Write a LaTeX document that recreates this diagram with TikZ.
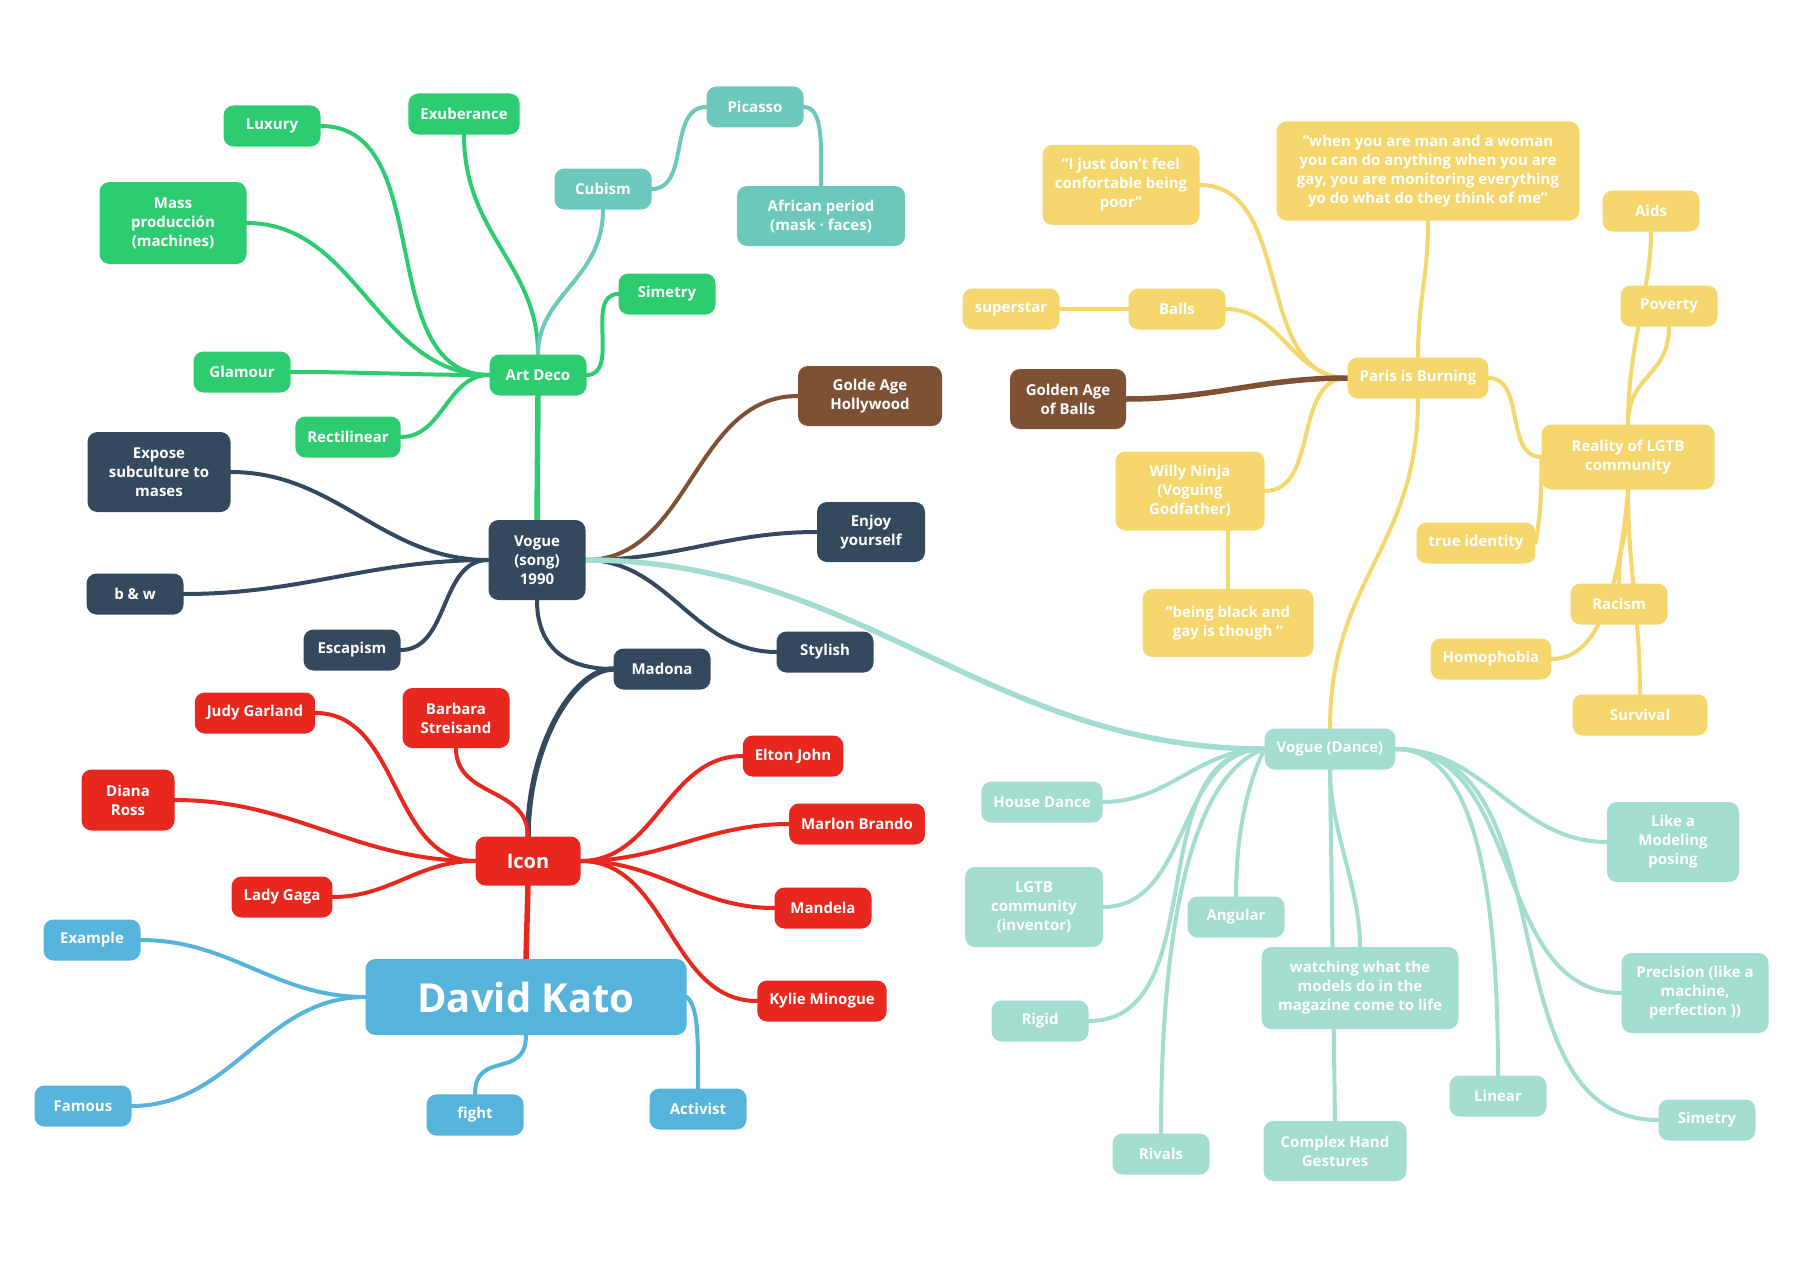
\documentclass[tikz,border=0pt]{standalone}
\usepackage{fontspec}
\setmainfont{Open Sans}
\usetikzlibrary{backgrounds}

\definecolor{decogreen}{HTML}{2ECC71}
\definecolor{cubteal}{HTML}{6DC8BC}
\definecolor{songnavy}{HTML}{34495E}
\definecolor{goldbrown}{HTML}{7E5034}
\definecolor{iconred}{HTML}{E8281E}
\definecolor{katoblue}{HTML}{56B3DC}
\definecolor{parisyellow}{HTML}{F5D76E}
\definecolor{dancemint}{HTML}{A3DDD0}

\tikzset{
  topic/.style={rounded corners=10pt, text=white, align=center,
    font=\fontsize{15}{19}\selectfont\bfseries,
    minimum height=41pt, minimum width=97pt, inner xsep=12pt, inner ysep=13pt},
  decotopic/.style={topic, fill=decogreen},
  cubtopic/.style={topic, fill=cubteal},
  songtopic/.style={topic, fill=songnavy},
  goldtopic/.style={topic, fill=goldbrown},
  icontopic/.style={topic, fill=iconred},
  katotopic/.style={topic, fill=katoblue},
  paristopic/.style={topic, fill=parisyellow},
  dancetopic/.style={topic, fill=dancemint},
  link/.style={line width=4pt, line cap=round},
  mainlink/.style={line width=5.5pt, line cap=round},
}

\begin{document}
\begin{tikzpicture}[x=1pt,y=-1pt]
        \useasboundingbox (0,0) rectangle (1819,1287);

        % Art Deco
        \node[decotopic] (artdeco) at (538,375) {Art Deco};
        \node[decotopic] (luxury) at (272,126) {Luxury};
        \node[decotopic, minimum width=109pt] (exuberance) at (464,114) {Exuberance};
        \node[decotopic, minimum width=147pt, minimum height=82pt] (mass) at (173,223) {Mass\\producción\\(machines)};
        \node[decotopic] (simetryA) at (667,294) {Simetry};
        \node[decotopic] (glamour) at (242,372) {Glamour};
        \node[decotopic] (rectilinear) at (348,437) {Rectilinear};
        \node[cubtopic] (cubism) at (603,189) {Cubism};
        \node[cubtopic] (picasso) at (755,107) {Picasso};
        \node[cubtopic, minimum width=168pt, minimum height=60pt] (african) at (821,216) {African period\\(mask · faces)};

        % Vogue (song)
        \node[songtopic, minimum height=80pt] (song) at (537,560) {Vogue\\(song)\\1990};
        \node[goldtopic, minimum width=144pt, minimum height=60pt] (hollywood) at (870,396) {Golde Age\\Hollywood};
        \node[songtopic, minimum width=143pt, minimum height=80pt] (expose) at (159,472) {Expose\\subculture to\\mases};
        \node[songtopic, minimum width=108pt, minimum height=60pt] (enjoy) at (871,532) {Enjoy\\yourself};
        \node[songtopic] (bw) at (135,594) {b \& w};
        \node[songtopic] (escapism) at (352,650) {Escapism};
        \node[songtopic] (madona) at (662,669) {Madona};
        \node[songtopic] (stylish) at (825,652) {Stylish};

        % Icon
        \node[icontopic, minimum width=105pt, minimum height=49pt] (icon) at (528,861) {\fontsize{20}{24}\selectfont Icon};
        \node[icontopic] (judy) at (255,713) {Judy Garland};
        \node[icontopic, minimum width=107pt, minimum height=60pt] (barbara) at (456,718) {Barbara\\Streisand};
        \node[icontopic, minimum width=93pt, minimum height=61pt] (diana) at (128,800) {Diana\\Ross};
        \node[icontopic] (elton) at (793,756) {Elton John};
        \node[icontopic] (marlon) at (857,824) {Marlon Brando};
        \node[icontopic] (gaga) at (282,897) {Lady Gaga};
        \node[icontopic] (mandela) at (823,908) {Mandela};
        \node[icontopic] (kylie) at (822,1001) {Kylie Minogue};

        % David Kato
        \node[katotopic, minimum width=321pt, minimum height=76pt,
          font=\fontsize{40}{44}\selectfont\bfseries] (kato) at (526,997) {David Kato};
        \node[katotopic] (example) at (92,940) {Example};
        \node[katotopic] (famous) at (83,1106) {Famous};
        \node[katotopic] (fight) at (475,1115) {fight};
        \node[katotopic] (activist) at (698,1109) {Activist};

        % Paris is Burning
        \node[paristopic] (paris) at (1418,378) {Paris is Burning};
        \node[paristopic, minimum width=157pt, minimum height=80pt] (poor) at (1121,185) {"I just don't feel\\confortable being\\poor"};
        \node[paristopic, minimum width=303pt, minimum height=99pt] (quote) at (1428,171) {"when you are man and a woman\\you can do anything when you are\\gay, you are monitoring everything\\yo do what do they think of me"};
        \node[paristopic] (aids) at (1651,211) {Aids};
        \node[paristopic] (superstar) at (1011,309) {superstar};
        \node[paristopic] (balls) at (1177,309) {Balls};
        \node[paristopic] (poverty) at (1669,306) {Poverty};
        \node[goldtopic, minimum width=116pt, minimum height=60pt] (goldenballs) at (1068,399) {Golden Age\\of Balls};
        \node[paristopic, minimum width=149pt, minimum height=79pt] (willy) at (1190,491) {Willy Ninja\\(Voguing\\Godfather)};
        \node[paristopic, minimum width=173pt, minimum height=65pt] (reality) at (1628,457) {Reality of LGTB\\community};
        \node[paristopic, minimum width=116pt] (identity) at (1476,543) {true identity};
        \node[paristopic] (racism) at (1619,604) {Racism};
        \node[paristopic, minimum width=171pt, minimum height=68pt] (black) at (1228,623) {"being black and\\gay is though "};
        \node[paristopic, minimum width=119pt] (homophobia) at (1491,659) {Homophobia};
        \node[paristopic, minimum width=135pt] (survival) at (1640,715) {Survival};

        % Vogue (Dance)
        \node[dancetopic, minimum width=129pt] (dance) at (1330,749) {Vogue (Dance)};
        \node[dancetopic, minimum width=121pt] (house) at (1042,802) {House Dance};
        \node[dancetopic, minimum width=132pt, minimum height=80pt] (modeling) at (1673,842) {Like a\\Modeling\\posing};
        \node[dancetopic, minimum width=138pt, minimum height=80pt] (lgtb) at (1034,907) {LGTB\\community\\(inventor)};
        \node[dancetopic] (angular) at (1236,917) {Angular};
        \node[dancetopic, minimum width=197pt, minimum height=82pt] (watching) at (1360,988) {watching what the\\models do in the\\magazine come to life};
        \node[dancetopic, minimum width=147pt, minimum height=80pt] (precision) at (1695,993) {Precision (like a\\machine,\\perfection ))};
        \node[dancetopic] (rigid) at (1040,1021) {Rigid};
        \node[dancetopic] (linear) at (1498,1096) {Linear};
        \node[dancetopic] (simetryB) at (1707,1120) {Simetry};
        \node[dancetopic] (rivals) at (1161,1154) {Rivals};
        \node[dancetopic, minimum width=143pt, minimum height=60pt] (hand) at (1335,1151) {Complex Hand\\Gestures};

        \begin{scope}[on background layer]
        \foreach \t in {luxury,mass,glamour,rectilinear}
            \draw[link,decogreen] (artdeco.west) to[out=180,in=0] (\t.east);
        \draw[link,decogreen] (artdeco.east) to[out=0,in=180] (simetryA.west);
        \draw[link,decogreen] (artdeco.north) .. controls +(0,-90) and +(0,100) .. (exuberance.south);
        \draw[link,cubteal] (artdeco.north) .. controls +(0,-60) and +(0,70) .. (cubism.south);
        \draw[link,cubteal] (cubism.east) to[out=0,in=180] (picasso.west);
        \draw[link,cubteal] (picasso.east) .. controls +(20,0) and +(0,-40) .. (african.north);
        \draw[mainlink,decogreen] (artdeco.south) -- (song.north);

        \foreach \t in {expose,bw,escapism}
            \draw[link,songnavy] (song.west) to[out=180,in=0] (\t.east);
        \foreach \t in {enjoy,stylish}
            \draw[link,songnavy] (song.east) to[out=0,in=180] (\t.west);
        \draw[link,songnavy] (song.south) .. controls +(0,45) and +(-50,0) .. (madona.west);
        \draw[link,goldbrown] (song.east) to[out=0,in=180] (hollywood.west);
        \draw[mainlink,dancemint] (song.east) to[out=0,in=180] (dance.west);
        \draw[mainlink,songnavy] (madona.west) .. controls +(-40,0) and +(0,-90) .. (icon.north);

        \foreach \t in {judy,diana,gaga}
            \draw[link,iconred] (icon.west) to[out=180,in=0] (\t.east);
        \foreach \t in {elton,marlon,mandela,kylie}
            \draw[link,iconred] (icon.east) to[out=0,in=180] (\t.west);
        \draw[link,iconred] (icon.north) .. controls +(0,-50) and +(0,50) .. (barbara.south);
        \draw[mainlink,iconred] (icon.south) -- (kato.north);

        \foreach \t in {example,famous}
            \draw[link,katoblue] (kato.west) to[out=180,in=0] (\t.east);
        \draw[link,katoblue] (kato.south) .. controls +(0,45) and +(0,-45) .. (fight.north);
        \draw[link,katoblue] (kato.east) .. controls +(12,10) and +(0,-50) .. (activist.north);

        \foreach \t in {poor,balls,willy}
            \draw[link,parisyellow] (paris.west) to[out=180,in=0] (\t.east);
        \draw[mainlink,goldbrown] (paris.west) to[out=180,in=0] (goldenballs.east);
        \draw[link,parisyellow] (balls.west) -- (superstar.east);
        \draw[link,parisyellow] (black.north) -- (black.north |- willy.south);
        \draw[link,parisyellow] (paris.north) .. controls +(0,-60) and +(0,60) .. (quote.south);
        \draw[link,parisyellow] (paris.east) to[out=0,in=180] (reality.west);
        \draw[link,parisyellow] (dance.north) .. controls +(0,-150) and +(0,150) .. (paris.south);
        \draw[link,parisyellow] (reality.north) .. controls +(0,-50) and +(0,50) .. (poverty.south);
        \draw[link,parisyellow] (reality.north) .. controls +(0,-80) and +(0,60) .. (aids.south);
        \draw[link,parisyellow] (reality.west) .. controls +(0,40) and +(5,-30) .. (identity.east);
        \draw[link,parisyellow] (reality.south) .. controls +(0,60) and +(0,-50) .. (racism.north);
        \draw[link,parisyellow] (reality.south) .. controls +(-10,120) and +(40,0) .. (homophobia.east);
        \draw[link,parisyellow] (reality.south) .. controls +(0,80) and +(0,-80) .. (survival.north);

        \foreach \t in {house,lgtb,rigid}
            \draw[link,dancemint] (dance.west) to[out=180,in=0] (\t.east);
        \foreach \t in {modeling,precision,simetryB}
            \draw[link,dancemint] (dance.east) to[out=0,in=180] (\t.west);
        \draw[link,dancemint] (dance.west) .. controls +(-60,20) and +(0,-250) .. (rivals.north);
        \draw[link,dancemint] (dance.west) .. controls +(-10,20) and +(0,-80) .. (angular.north);
        \draw[link,dancemint] (dance.south) -- (hand.north);
        \draw[link,dancemint] (dance.south) .. controls +(0,60) and +(0,-60) .. (watching.north);
        \draw[link,dancemint] (dance.east) .. controls +(60,0) and +(0,-250) .. (linear.north);
        \end{scope}
\end{tikzpicture}
\end{document}
